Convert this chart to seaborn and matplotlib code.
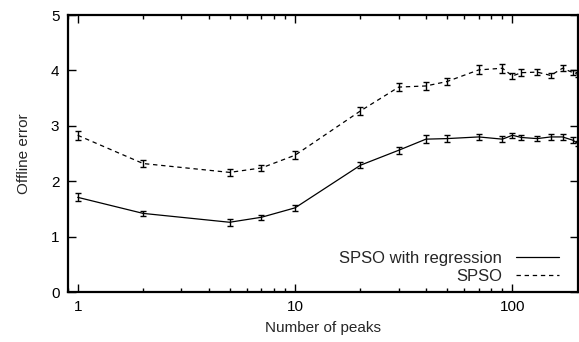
import numpy as np
import pandas as pd
import seaborn as sns
import matplotlib
matplotlib.use("Agg")
import matplotlib.pyplot as plt
from matplotlib.ticker import LogLocator, NullFormatter

# Données
peaks = [1, 2, 5, 7, 10, 20, 30, 40, 50, 70, 90, 100, 110, 130, 150, 170, 190, 200]
err_regression = [1.71, 1.42, 1.26, 1.35, 1.52, 2.29, 2.56, 2.76, 2.77, 2.80, 2.76, 2.83,
                  2.79, 2.77, 2.80, 2.80, 2.74, 2.68]
err_spso = [2.83, 2.32, 2.16, 2.24, 2.47, 3.27, 3.70, 3.72, 3.80, 4.01, 4.04, 3.90,
            3.96, 3.97, 3.91, 4.04, 3.96, 3.93]
sd_regression = [0.07, 0.05, 0.06, 0.05, 0.05, 0.05, 0.06, 0.07, 0.07, 0.05, 0.05, 0.05,
                 0.05, 0.05, 0.05, 0.05, 0.05, 0.05]
sd_spso = [0.08, 0.07, 0.06, 0.06, 0.07, 0.07, 0.07, 0.07, 0.07, 0.08, 0.08, 0.06,
           0.06, 0.06, 0.05, 0.05, 0.05, 0.05]
series_names = ["SPSO with regression", "SPSO"]

data = pd.DataFrame({
    "peaks": peaks * 2,
    "error": err_regression + err_spso,
    "sd": sd_regression + sd_spso,
    "method": [series_names[0]] * len(peaks) + [series_names[1]] * len(peaks),
})

sns.set_style("ticks")
plt.rcParams["font.family"] = ["Liberation Sans", "DejaVu Sans"]
fs = 11

fig = plt.figure(figsize=(5.79, 3.42), dpi=100)
ax = fig.add_axes([0.117, 0.146, 0.881, 0.81])

sns.lineplot(data=data, x="peaks", y="error", style="method", color="black",
             dashes={series_names[0]: "", series_names[1]: (3.5, 3)},
             linewidth=0.9, ax=ax)

for name in series_names:
    sub = data[data["method"] == name]
    ax.errorbar(sub["peaks"], sub["error"], yerr=sub["sd"], fmt="none",
                ecolor="black", elinewidth=1.0, capsize=2.5, capthick=1.0)

ax.set_xscale("log")
ax.set_xlim(0.9, 200)
ax.set_ylim(0, 5)
ax.set_xticks([1, 10, 100])
ax.set_xticklabels(["1", "10", "100"])
ax.xaxis.set_minor_locator(LogLocator(base=10, subs=np.arange(2, 10)))
ax.xaxis.set_minor_formatter(NullFormatter())
ax.set_yticks([0, 1, 2, 3, 4, 5])

ax.tick_params(which="both", direction="in", top=True, right=True, colors="black",
               labelsize=fs, width=1.0)
ax.tick_params(which="major", length=6, pad=6)
ax.tick_params(which="minor", length=3)
for s in ax.spines.values():
    s.set_linewidth(1.6)
    s.set_color("black")

ax.set_xlabel("Number of peaks", fontsize=fs, labelpad=5)
ax.set_ylabel("Offline error", fontsize=fs, labelpad=14)

ax.legend(loc="lower right", frameon=False, markerfirst=False, handlelength=2.6,
          handletextpad=0.8, fontsize=12, labelspacing=0.15, borderaxespad=0,
          borderpad=0, title=None, bbox_to_anchor=(0.963, 0.03))

fig.savefig("out.png", dpi=100)
